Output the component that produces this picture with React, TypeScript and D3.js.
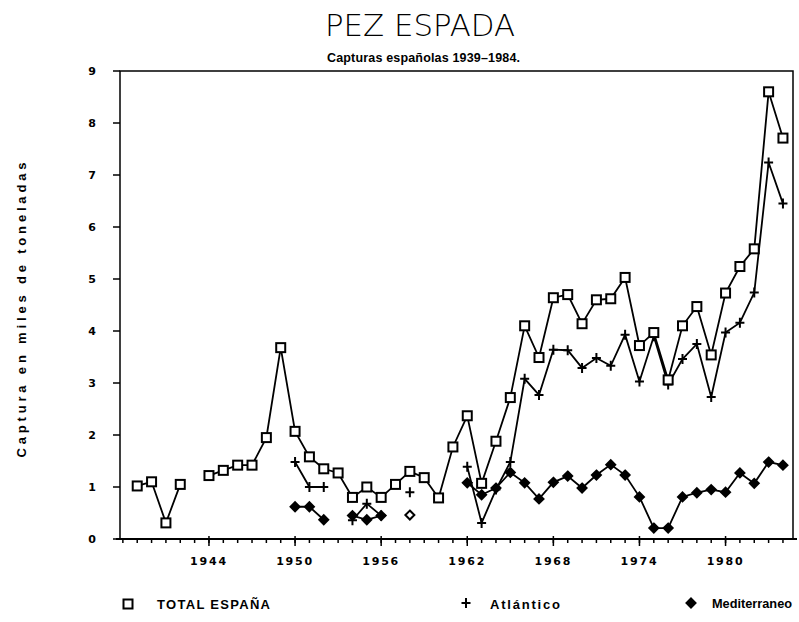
import React from 'react';
import * as d3 from 'd3';

// years 1939..1984 (one entry per year)
const years = [
  1939, 1940, 1941, 1942, 1943, 1944, 1945, 1946, 1947, 1948,
  1949, 1950, 1951, 1952, 1953, 1954, 1955, 1956, 1957, 1958,
  1959, 1960, 1961, 1962, 1963, 1964, 1965, 1966, 1967, 1968,
  1969, 1970, 1971, 1972, 1973, 1974, 1975, 1976, 1977, 1978,
  1979, 1980, 1981, 1982, 1983, 1984,
];

const totalEspana = [
  1.02, 1.1, 0.31, 1.05, null, 1.22, 1.32, 1.42, 1.42, 1.95,
  3.68, 2.07, 1.58, 1.35, 1.27, 0.8, 1.0, 0.8, 1.05, 1.3,
  1.18, 0.79, 1.77, 2.37, 1.07, 1.88, 2.72, 4.1, 3.49, 4.64,
  4.7, 4.14, 4.6, 4.62, 5.03, 3.72, 3.97, 3.06, 4.1, 4.47,
  3.54, 4.73, 5.24, 5.58, 8.6, 7.71,
];

const atlantico = [
  null, null, null, null, null, null, null, null, null, null,
  null, 1.48, 1.0, 1.0, null, 0.36, 0.68, 0.45, null, 0.9,
  null, null, null, 1.39, 0.31, 0.95, 1.48, 3.08, 2.77, 3.64,
  3.63, 3.29, 3.48, 3.33, 3.93, 3.03, 3.9, 2.97, 3.46, 3.75,
  2.73, 3.97, 4.16, 4.74, 7.24, 6.45,
];

const mediterraneo = [
  null, null, null, null, null, null, null, null, null, null,
  null, 0.62, 0.62, 0.37, null, 0.45, 0.37, 0.45, null, 0.46,
  null, null, null, 1.08, 0.85, 0.98, 1.28, 1.08, 0.77, 1.09,
  1.21, 0.98, 1.23, 1.43, 1.23, 0.81, 0.21, 0.21, 0.81, 0.89,
  0.95, 0.9, 1.27, 1.07, 1.48, 1.42,
];

const yTicks = [0, 1, 2, 3, 4, 5, 6, 7, 8, 9];
const xLabels = [1944, 1950, 1956, 1962, 1968, 1974, 1980];

const W = 799;
const H = 622;
const left = 120;
const right = 793;
const top = 71;
const bottom = 539;

const x = d3.scaleLinear().domain([1937.8, 1984.7]).range([left, right]);
const y = d3.scaleLinear().domain([0, 9]).range([bottom, top]);

type Pt = { year: number; v: number | null };

const toPts = (vals: (number | null)[]): Pt[] =>
  years.map((year, i) => ({ year, v: vals[i] }));

const line = d3
  .line<Pt>()
  .defined(d => d.v != null)
  .x(d => x(d.year))
  .y(d => y(d.v as number));

const isolated = (pts: Pt[], i: number) =>
  (i === 0 || pts[i - 1].v == null) && (i === pts.length - 1 || pts[i + 1].v == null);

const Square = ({ cx, cy }: { cx: number; cy: number }) => (
  <rect x={cx - 4.5} y={cy - 4.5} width={9} height={9} fill="white" stroke="black" strokeWidth={2} />
);

const Plus = ({ cx, cy }: { cx: number; cy: number }) => (
  <path d={`M${cx - 4.5},${cy}H${cx + 4.5}M${cx},${cy - 5}V${cy + 5}`} stroke="black" strokeWidth={2} />
);

const Diamond = ({ cx, cy, open }: { cx: number; cy: number; open?: boolean }) => (
  <path
    d={`M${cx},${cy - 4.5}L${cx + 4.5},${cy}L${cx},${cy + 4.5}L${cx - 4.5},${cy}Z`}
    fill={open ? 'white' : 'black'}
    stroke="black"
    strokeWidth={2}
  />
);

export default function App() {
  const total = toPts(totalEspana);
  const atl = toPts(atlantico);
  const med = toPts(mediterraneo);
  const bold = { fontFamily: 'DejaVu Sans, sans-serif', fontWeight: 'bold' as const };
  const lib = { fontFamily: 'Liberation Sans, sans-serif', fontWeight: 'bold' as const };

  return (
    <div style={{ position: 'absolute', left: 0, top: 0 }}>
      <svg width={W} height={H} style={{ display: 'block', background: 'white' }}>
        {/* titles */}
        <text x={325} y={36} fontFamily="DejaVu Sans, sans-serif" fontSize={30} fontWeight={200}
          textLength={190} lengthAdjust="spacingAndGlyphs">
          PEZ ESPADA
        </text>
        <text x={327} y={62} {...lib} fontSize={12.5} textLength={193} lengthAdjust="spacing">
          Capturas españolas 1939–1984.
        </text>

        {/* frame */}
        <path d={`M${left},${bottom}V${top}H${right}V${bottom}`} fill="none" stroke="black" strokeWidth={1.5} />
        <line x1={left - 4} x2={right + 4} y1={bottom} y2={bottom} stroke="black" strokeWidth={2} />

        {/* y axis ticks */}
        {yTicks.map(t => (
          <g key={t}>
            <line x1={left - 7} x2={left} y1={y(t)} y2={y(t)} stroke="black" strokeWidth={1.5} />
            <text x={92} y={y(t) + 4} textAnchor="middle" {...bold} fontSize={11}>
              {t}
            </text>
          </g>
        ))}

        {/* x axis ticks */}
        {d3.range(1938, 1985).map(yr => (
          <line key={yr} x1={x(yr)} x2={x(yr)} y1={bottom} y2={bottom + 4} stroke="black" strokeWidth={1.5} />
        ))}
        {xLabels.map(yr => (
          <g key={yr}>
            <line x1={x(yr)} x2={x(yr)} y1={bottom - 3} y2={bottom + 7} stroke="black" strokeWidth={1.5} />
            <text x={x(yr)} y={565} textAnchor="middle" {...bold} fontSize={11} letterSpacing={1.8}>
              {yr}
            </text>
          </g>
        ))}

        {/* y label */}
        <text
          transform="translate(26,310) rotate(-90)"
          textAnchor="middle"
          {...lib}
          fontSize={13}
          textLength={295}
          lengthAdjust="spacing"
        >
          Captura en miles de toneladas
        </text>

        {/* series lines */}
        <path d={line(total) || ''} fill="none" stroke="black" strokeWidth={1.8} />
        <path d={line(atl) || ''} fill="none" stroke="black" strokeWidth={1.8} />
        <path d={line(med) || ''} fill="none" stroke="black" strokeWidth={1.8} />

        {/* markers */}
        {med.map((d, i) =>
          d.v == null ? null : <Diamond key={'m' + i} cx={x(d.year)} cy={y(d.v)} open={isolated(med, i)} />
        )}
        {atl.map((d, i) => (d.v == null ? null : <Plus key={'a' + i} cx={x(d.year)} cy={y(d.v)} />))}
        {total.map((d, i) => (d.v == null ? null : <Square key={'t' + i} cx={x(d.year)} cy={y(d.v)} />))}

        {/* legend */}
        <Square cx={128} cy={604} />
        <text x={157} y={609} {...lib} fontSize={13} textLength={113} lengthAdjust="spacing">
          TOTAL ESPAÑA
        </text>
        <Plus cx={466} cy={603} />
        <text x={490} y={609} {...lib} fontSize={13} textLength={70} lengthAdjust="spacing">
          Atlántico
        </text>
        <Diamond cx={691} cy={603} />
        <text x={712} y={608} {...lib} fontSize={12} textLength={80} lengthAdjust="spacingAndGlyphs">
          Mediterraneo
        </text>
      </svg>
    </div>
  );
}
